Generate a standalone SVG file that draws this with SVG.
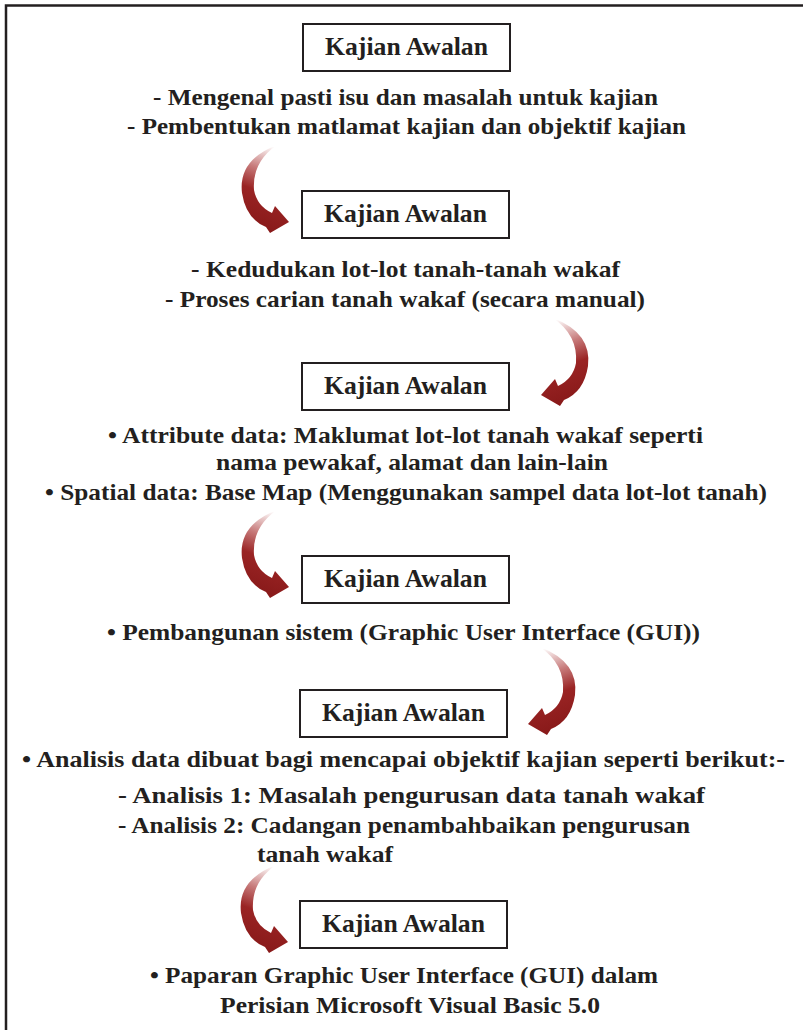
<svg xmlns="http://www.w3.org/2000/svg" width="803" height="1030" viewBox="0 0 803 1030">
<style>
.t{font-family:"Liberation Serif","DejaVu Serif",serif;font-weight:bold;font-size:23px;fill:#231f20}
.bt{font-family:"Liberation Serif","DejaVu Serif",serif;font-weight:bold;font-size:25px;fill:#231f20}
.box{fill:#fff;stroke:#231f20;stroke-width:2}
</style>
<defs>
<linearGradient id="ag" x1="0.6" y1="0" x2="0.4" y2="1">
<stop offset="0" stop-color="#ffffff"/>
<stop offset="0.3" stop-color="#c77a7a"/>
<stop offset="0.55" stop-color="#9a2424"/>
<stop offset="1" stop-color="#861818"/>
</linearGradient>
<path id="arrow" fill="url(#ag)" d="M 277 145 Q 238 160 242 193 Q 246 219 266 227 L 270 233 L 289 222 L 275 206 L 272 213 Q 257 206 254 190 Q 252 162 277 145 Z"/>
</defs>
<path d="M 6 1030 V 5.5 H 803" fill="none" stroke="#231f20" stroke-width="2.5"/>
<g id="connectors">
<use href="#arrow"/>
<use href="#arrow" transform="translate(830,173) scale(-1,1)"/>
<use href="#arrow" transform="translate(0,365)"/>
<use href="#arrow" transform="translate(817,502) scale(-1,1)"/>
<use href="#arrow" transform="translate(-1,720)"/>
</g>
<g id="node1">
<rect class="box" x="303" y="24" width="207" height="47"/>
<text class="bt" x="325" y="55" textLength="163" lengthAdjust="spacingAndGlyphs">Kajian Awalan</text>
<text class="t" x="153" y="105" textLength="505" lengthAdjust="spacingAndGlyphs">- Mengenal pasti isu dan masalah untuk kajian</text>
<text class="t" x="127" y="134" textLength="559" lengthAdjust="spacingAndGlyphs">- Pembentukan matlamat kajian dan objektif kajian</text>
</g>
<g id="node2">
<rect class="box" x="302" y="191" width="207" height="47"/>
<text class="bt" x="324" y="222" textLength="163" lengthAdjust="spacingAndGlyphs">Kajian Awalan</text>
<text class="t" x="191" y="277" textLength="429" lengthAdjust="spacingAndGlyphs">- Kedudukan lot-lot tanah-tanah wakaf</text>
<text class="t" x="165" y="307" textLength="480" lengthAdjust="spacingAndGlyphs">- Proses carian tanah wakaf (secara manual)</text>
</g>
<g id="node3">
<rect class="box" x="302" y="363" width="207" height="47"/>
<text class="bt" x="324" y="394" textLength="163" lengthAdjust="spacingAndGlyphs">Kajian Awalan</text>
<text class="t" x="108" y="443" textLength="595" lengthAdjust="spacingAndGlyphs">• Attribute data: Maklumat lot-lot tanah wakaf seperti</text>
<text class="t" x="216" y="470" textLength="392" lengthAdjust="spacingAndGlyphs">nama pewakaf, alamat dan lain-lain</text>
<text class="t" x="45" y="500" textLength="722" lengthAdjust="spacingAndGlyphs">• Spatial data: Base Map (Menggunakan sampel data lot-lot tanah)</text>
</g>
<g id="node4">
<rect class="box" x="302" y="556" width="207" height="47"/>
<text class="bt" x="324" y="587" textLength="163" lengthAdjust="spacingAndGlyphs">Kajian Awalan</text>
<text class="t" x="107" y="640" textLength="593" lengthAdjust="spacingAndGlyphs">• Pembangunan sistem (Graphic User Interface (GUI))</text>
</g>
<g id="node5">
<rect class="box" x="300" y="690" width="207" height="47"/>
<text class="bt" x="322" y="721" textLength="163" lengthAdjust="spacingAndGlyphs">Kajian Awalan</text>
<text class="t" x="22" y="767" textLength="763" lengthAdjust="spacingAndGlyphs">• Analisis data dibuat bagi mencapai objektif kajian seperti berikut:-</text>
<text class="t" x="118" y="803" textLength="587" lengthAdjust="spacingAndGlyphs">- Analisis 1: Masalah pengurusan data tanah wakaf</text>
<text class="t" x="118" y="833" textLength="572" lengthAdjust="spacingAndGlyphs">- Analisis 2: Cadangan penambahbaikan pengurusan</text>
<text class="t" x="257" y="862" textLength="136" lengthAdjust="spacingAndGlyphs">tanah wakaf</text>
</g>
<g id="node6">
<rect class="box" x="300" y="901" width="207" height="47"/>
<text class="bt" x="322" y="932" textLength="163" lengthAdjust="spacingAndGlyphs">Kajian Awalan</text>
<text class="t" x="150" y="983" textLength="508" lengthAdjust="spacingAndGlyphs">• Paparan Graphic User Interface (GUI) dalam</text>
<text class="t" x="220" y="1013" textLength="380" lengthAdjust="spacingAndGlyphs">Perisian Microsoft Visual Basic 5.0</text>
</g>
</svg>
